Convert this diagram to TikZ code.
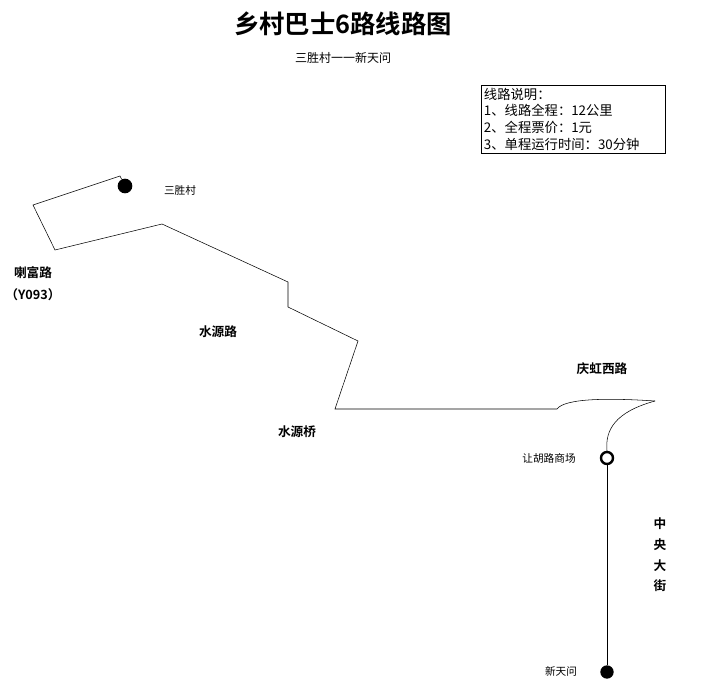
\documentclass[tikz,border=0pt]{standalone}
\usepackage{fontspec}
\setmainfont{Noto Sans CJK SC}
\newfontfamily\cjkbold{Noto Sans CJK SC Bold}
\begin{document}
\begin{tikzpicture}[x=0.75pt,y=-0.75pt,thin,
  place/.style={font=\fontsize{8}{9}\selectfont},
  road/.style={font=\cjkbold\fontsize{9.5}{11}\selectfont}]
\useasboundingbox (0,0) rectangle (708,689);
% title
\node (title) at (343,24) {\cjkbold\fontsize{19}{21}\selectfont 乡村巴士6路线路图};
\node[place,font=\fontsize{9}{10}\selectfont] (sub) at (343,58) {三胜村一一新天问};
\node[draw,anchor=north west,align=left,inner sep=2pt,text width=134pt,font=\fontsize{10}{12.6}\selectfont] (info) at (481,85)
  {线路说明：\\1、线路全程：12公里\\2、全程票价：1元\\3、单程运行时间：30分钟};
% route
\coordinate (a) at (120,176);
\node[circle,fill,inner sep=0pt,minimum size=11pt] (start) at (125,186) {};
\draw (start) -- (a) -- (33,205) -- (55,250) -- (162,224) -- (288,282) -- (288,307)
  -- (358,341) -- (335,409) -- (557,409) .. controls (565,398) and (610,398) .. (655,401);
\node[circle,draw,line width=1.8pt,inner sep=0pt,minimum size=9pt] (mall) at (607,458) {};
\draw (655,401) .. controls (615,412) and (605,430) .. (mall.north);
\node[circle,fill,inner sep=0pt,minimum size=10pt] (end) at (607,672) {};
\draw (mall) -- (end);
% labels
\node[place] (l1) at (180,190) {三胜村};
\node[road] (l2) at (33,273) {喇富路};
\node[road] (l3) at (33,295) {（Y093）};
\node[road] (l4) at (218,332) {水源路};
\node[road] (l5) at (297,432) {水源桥};
\node[road] (l6) at (602,369) {庆虹西路};
\node[place] (l7) at (549,458) {让胡路商场};
\node[road,align=center,font=\cjkbold\fontsize{9.5}{15.5}\selectfont] (l8) at (660,555) {中\\央\\大\\街};
\node[place] (l9) at (561,671) {新天问};
\end{tikzpicture}
\end{document}
